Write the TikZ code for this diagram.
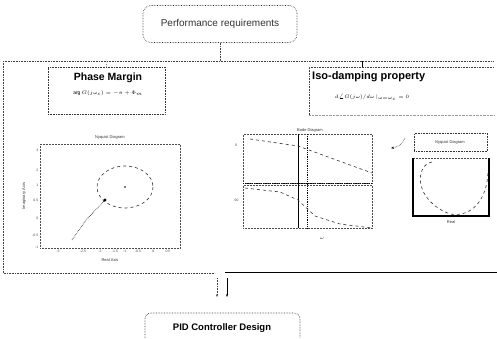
\documentclass[tikz,border=0pt]{standalone}
\usepackage{fontspec}
\setmainfont{Liberation Sans}
\usetikzlibrary{arrows.meta}
\begin{document}
\begin{tikzpicture}[x=1pt,y=-1pt,
  dotline/.style={densely dotted, line width=0.6pt, black!75},
  boxdot/.style={draw, densely dotted, line width=0.6pt, black!80},
  plotframe/.style={draw, densely dotted, line width=0.5pt, black!70},
  curve/.style={dashed, line width=0.6pt, black!80},
  tick/.style={font=\fontsize{3.5}{4}\selectfont, text=black!70, inner sep=0.5pt},
  tinytxt/.style={font=\fontsize{4}{5}\selectfont, text=black!80, inner sep=0.5pt}]
\useasboundingbox (0,0) rectangle (497,338);
\fill[white] (0,0) rectangle (497,338);

% top box
\node[boxdot, rounded corners=8pt, minimum width=154pt, minimum height=37pt,
      font=\fontsize{10}{12}\selectfont] (perf) at (220,24) {Performance requirements};

% bus
\coordinate (busmid) at (220,61);
\coordinate (busL) at (3,61);
\coordinate (busR) at (494,61);
\coordinate (busPM) at (107,61);
\coordinate (busIso) at (362,61);
\draw[dotline] (perf.south) -- (busmid);
\draw[dotline] (busL) -- (busR);
\coordinate (botL) at (3,273);
\coordinate (botM) at (215,273);
\coordinate (botS) at (225,272);
\coordinate (botR) at (497,272);
\draw[dotline] (busL) -- (botL) -- (botM);
\draw[line width=0.8pt] (botS) -- (botR);

% Phase margin box
\node[boxdot, minimum width=117pt, minimum height=47pt] (pm) at (106.5,90.5) {};
\node[font=\fontsize{10.5}{12}\selectfont\bfseries, inner sep=1pt] (pmt) at (108,78) {Phase Margin};
\node[font=\fontsize{5}{6}\selectfont, inner sep=1pt] (pmf) at (108,93) {$\arg G(j\omega_c) = -\pi + \Phi_m$};
\draw[dotline] (busPM) -- (pm.north);

% Iso-damping box
\coordinate (isoTL) at (309,67);
\coordinate (isoTR) at (494,67);
\coordinate (isoBL) at (309,115);
\coordinate (isoBR) at (494,115);
\draw[dotline] (isoBL) -- (isoTL) -- (isoTR);
\draw[densely dotted, line width=0.4pt, black!40] (isoBL) -- (isoBR);
\node[font=\fontsize{11}{13}\selectfont\bfseries, anchor=west, inner sep=1pt] (isot) at (311,77) {Iso-damping property};
\node[font=\fontsize{5.5}{6.5}\selectfont, inner sep=0.5pt] (isof) at (372,97) {$d\angle G(j\omega)/d\omega\,|_{\omega=\omega_c} = 0$};
\draw[line width=0.8pt] (busIso) -- (isoTL -| busIso);

% Nyquist plot (left)
\node[tinytxt] (nyt) at (110,137) {Nyquist Diagram};
\node[plotframe, minimum width=140pt, minimum height=104pt, anchor=north west] (nyf) at (40,144) {};
\draw[curve] (125,187) ellipse [x radius=28, y radius=21];
\fill (105,200) circle (1.6);
\fill (125,187) circle (0.9);
\draw[densely dotted, line width=0.6pt] (72,240) -- (86,220) -- (105,200);
\node[tinytxt, rotate=90] (nyy) at (24,196) {Imaginary Axis};
\node[tinytxt] (nyx) at (110,260) {Real Axis};
\foreach \y/\l in {150/3,170/2,185/1,200/0.5,218/0,235/-0.5,247/-1}{\node[tick, anchor=east] at (39,\y) {\l};}
\foreach \x/\l in {58/-3,83/-2.5,100/-2,115/-1.5,125/-1,138/-0.5,153/0,168/0.5}{\node[tick, anchor=north] at (\x,249) {\l};}

% Bode plot
\node[tinytxt] (bt) at (310,130) {Bode Diagram};
\node[plotframe, minimum width=129pt, minimum height=49pt, anchor=north west] (bm) at (243,134) {};
\node[plotframe, minimum width=129pt, minimum height=43pt, anchor=north west] (bp) at (243,185) {};
\draw[line width=1pt] (298,134) -- (298,228);
\draw[densely dotted, line width=0.8pt] (307,134) -- (307,228);
\draw[densely dotted, line width=0.8pt] (243,183) -- (372,183);
\draw[curve] (250,139) -- (298,146) -- (372,173);
\draw[curve] (245,188) -- (280,192) -- (298,200) -- (315,216) -- (340,224) -- (372,228);
\node[tinytxt] (bx) at (322,238) {$\omega$};
\node[tick] (bm0) at (236,145) {0};
\node[tick] (bp90) at (236,200) {-90};

% small arrow
\coordinate (arrA) at (405,138);
\coordinate (arrB) at (391,148);
\draw[-{Stealth[length=3pt]}, densely dotted, line width=0.5pt] (arrA) to[bend left=30] (arrB);

% small Nyquist (right)
\node[boxdot, minimum width=73pt, minimum height=18pt, anchor=north west] (nyb) at (414,133) {};
\node[tinytxt] (nybt) at (450,142) {Nyquist Diagram};
\node[plotframe, minimum width=76pt, minimum height=58pt, anchor=north west] (nyf2) at (413,158) {};
\draw[line width=1.2pt] (413,158) -- (413,216) -- (489,216) -- (489,158);
\draw[curve] (432,162) .. controls (415,165) and (413,200) .. (450,214)
             .. controls (475,218) and (488,195) .. (488,170);
\node[tinytxt] (nyx2) at (451,222) {Real};

% bottom arrows
\coordinate (a1s) at (217,278);
\coordinate (a1e) at (217,297);
\coordinate (a2s) at (227,278);
\coordinate (a2e) at (227,297);
\draw[dotline, -{Stealth[length=3pt]}] (a1s) -- (a1e);
\draw[line width=0.8pt, -{Stealth[length=3pt]}] (a2s) -- (a2e);

% PID box (cut off at bottom)
\draw[densely dotted, line width=0.6pt, black!80, rounded corners=6pt] (145,338) -- (145,313) -- (300,313) -- (300,338);
\node[font=\fontsize{9.5}{11}\selectfont\bfseries] (pid) at (222,328) {PID Controller Design};
\end{tikzpicture}
\end{document}
